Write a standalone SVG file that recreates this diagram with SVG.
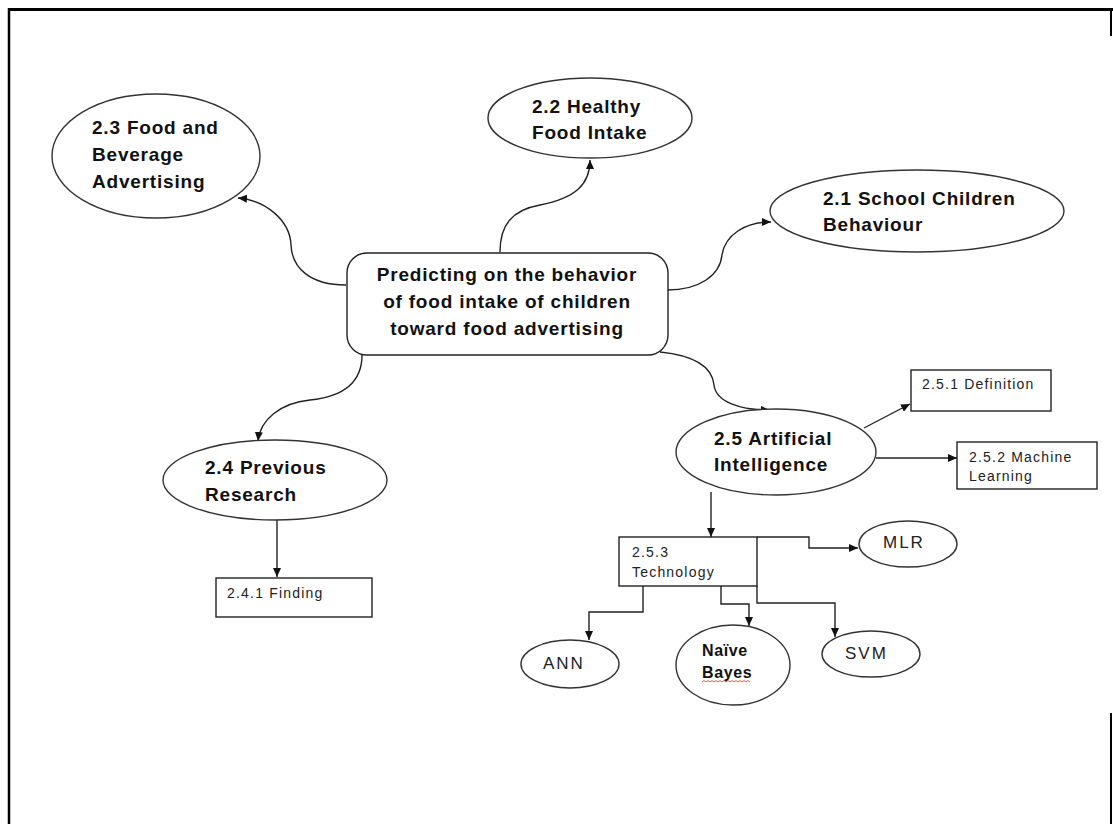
<svg xmlns="http://www.w3.org/2000/svg" width="1113" height="824" viewBox="0 0 1113 824">
<style>
.el{fill:#fff;stroke:#333;stroke-width:1.4}
.bx{fill:#fff;stroke:#222;stroke-width:1.4}
.big{font-family:"Liberation Sans",Arial,sans-serif;font-weight:bold;font-size:19px;letter-spacing:0.8px;fill:#111}
.nb{font-family:"Liberation Sans",Arial,sans-serif;font-weight:bold;font-size:16px;letter-spacing:0.6px;fill:#111}
.sm{font-family:"Liberation Sans",Arial,sans-serif;font-size:14px;letter-spacing:1.2px;fill:#222}
.md{font-family:"Liberation Sans",Arial,sans-serif;font-size:17px;letter-spacing:2px;fill:#222}
.cn{fill:none;stroke:#222;stroke-width:1.4}
.fr{stroke:#000;fill:none}
</style>
<defs>
<marker id="ah" viewBox="0 0 9 8" refX="9" refY="4" markerWidth="9" markerHeight="8" markerUnits="userSpaceOnUse" orient="auto">
<path d="M0,0 L9,4 L0,8 z" fill="#111"/>
</marker>
</defs>
<rect width="1113" height="824" fill="#fff"/>
<g id="frame">
<line class="fr" x1="8" y1="9.5" x2="1113" y2="9.5" stroke-width="3"/>
<line class="fr" x1="9" y1="8" x2="9" y2="824" stroke-width="2.5"/>
<line class="fr" x1="1111" y1="9" x2="1111" y2="36" stroke-width="2"/>
<line class="fr" x1="1111" y1="713" x2="1111" y2="824" stroke-width="2"/>
</g>
<g id="connectors">
<path class="cn" d="M346,285 C310,285 292,268 291,245 C290,220 265,200 238,198" marker-end="url(#ah)"/>
<path class="cn" d="M500,252 C500,225 512,210 540,205 C575,198 590,185 590,160" marker-end="url(#ah)"/>
<path class="cn" d="M667,290 C700,290 720,275 722,255 C725,235 745,222 771,222" marker-end="url(#ah)"/>
<path class="cn" d="M660,352 C690,355 712,365 714,385 C716,402 740,410 770,410" marker-end="url(#ah)"/>
<path class="cn" d="M362,355 C362,385 340,397 310,400 C280,403 260,420 258,441" marker-end="url(#ah)"/>
<path class="cn" d="M277,520 L277,577" marker-end="url(#ah)"/>
<path class="cn" d="M864,428 L910,404" marker-end="url(#ah)"/>
<path class="cn" d="M876,458 L957,458" marker-end="url(#ah)"/>
<path class="cn" d="M711,492 L711,537" marker-end="url(#ah)"/>
<path class="cn" d="M757,537 L809,537 L809,548 L858,548" marker-end="url(#ah)"/>
<path class="cn" d="M643,586 L643,612 L589,612 L589,640" marker-end="url(#ah)"/>
<path class="cn" d="M721,586 L721,604 L749,604 L749,626" marker-end="url(#ah)"/>
<path class="cn" d="M757,586 L757,603 L835,603 L835,637" marker-end="url(#ah)"/>
</g>
<g id="n23">
<ellipse class="el" cx="156" cy="156" rx="104" ry="62"/>
<text class="big" x="92" y="134">2.3 Food and</text>
<text class="big" x="92" y="161">Beverage</text>
<text class="big" x="92" y="188">Advertising</text>
</g>
<g id="n22">
<ellipse class="el" cx="590" cy="118" rx="102" ry="40"/>
<text class="big" x="532" y="113">2.2 Healthy</text>
<text class="big" x="532" y="139">Food Intake</text>
</g>
<g id="n21">
<ellipse class="el" cx="917" cy="211" rx="147" ry="41"/>
<text class="big" x="823" y="205">2.1 School Children</text>
<text class="big" x="823" y="231">Behaviour</text>
</g>
<g id="center">
<rect class="bx" x="347" y="253" width="321" height="102" rx="20" ry="20"/>
<text class="big" x="507" y="281" text-anchor="middle">Predicting on the behavior</text>
<text class="big" x="507" y="308" text-anchor="middle">of food intake of children</text>
<text class="big" x="507" y="335" text-anchor="middle">toward food advertising</text>
</g>
<g id="n24">
<ellipse class="el" cx="275" cy="480" rx="112" ry="40"/>
<text class="big" x="205" y="474">2.4 Previous</text>
<text class="big" x="205" y="501">Research</text>
</g>
<g id="n241">
<rect class="bx" x="216" y="578" width="156" height="39"/>
<text class="sm" x="227" y="598">2.4.1 Finding</text>
</g>
<g id="n25">
<ellipse class="el" cx="776" cy="452" rx="100" ry="43"/>
<text class="big" x="714" y="445">2.5 Artificial</text>
<text class="big" x="714" y="471">Intelligence</text>
</g>
<g id="n251">
<rect class="bx" x="911" y="370" width="140" height="41"/>
<text class="sm" x="922" y="389">2.5.1 Definition</text>
</g>
<g id="n252">
<rect class="bx" x="957" y="442" width="140" height="47"/>
<text class="sm" x="969" y="462">2.5.2 Machine</text>
<text class="sm" x="969" y="481">Learning</text>
</g>
<g id="n253">
<rect class="bx" x="619" y="537" width="138" height="49"/>
<text class="sm" x="632" y="557">2.5.3</text>
<text class="sm" x="632" y="577">Technology</text>
</g>
<g id="mlr">
<ellipse class="el" cx="908" cy="544" rx="49" ry="23"/>
<text class="md" x="883" y="548">MLR</text>
</g>
<g id="ann">
<ellipse class="el" cx="570" cy="664" rx="49" ry="24"/>
<text class="md" x="543" y="669">ANN</text>
</g>
<g id="nb">
<ellipse class="el" cx="733" cy="665" rx="57" ry="40"/>
<text class="nb" x="702" y="656">Naïve</text>
<text class="nb" x="702" y="678">Bayes</text>
<path d="M702,682 l2,-1.5 l2,1.5 l2,-1.5 l2,1.5 l2,-1.5 l2,1.5 l2,-1.5 l2,1.5 l2,-1.5 l2,1.5 l2,-1.5 l2,1.5 l2,-1.5 l2,1.5 l2,-1.5 l2,1.5 l2,-1.5 l2,1.5 l2,-1.5 l2,1.5 l2,-1.5 l2,1.5 l2,-1.5 l2,1.5" fill="none" stroke="#e03030" stroke-width="0.8"/>
</g>
<g id="svm">
<ellipse class="el" cx="871" cy="654" rx="49" ry="23"/>
<text class="md" x="845" y="659">SVM</text>
</g>
</svg>
